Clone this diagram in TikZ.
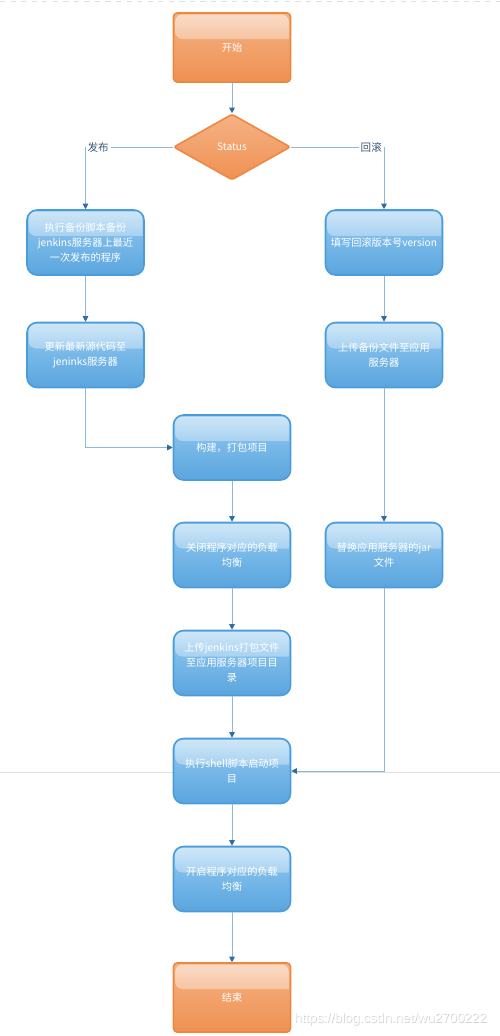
\documentclass[tikz,border=0pt]{standalone}
\usepackage{fontspec}
\usepackage{tikz}
\usetikzlibrary{shapes.geometric,arrows.meta,fadings}
\newfontfamily\cjk{Noto Sans CJK SC}
\newfontfamily\wmfont{Liberation Sans}
\definecolor{boxtop}{HTML}{94CAF1}
\definecolor{boxbot}{HTML}{5AA5DE}
\definecolor{boxline}{HTML}{4B9CDB}
\definecolor{orgtop}{HTML}{F5B285}
\definecolor{orgbot}{HTML}{EF9152}
\definecolor{orgline}{HTML}{EE8840}
\definecolor{flowline}{HTML}{8DB9DD}
\definecolor{tipblue}{HTML}{2F6CA3}
\definecolor{labeltext}{HTML}{3A5877}

\begin{document}
\begin{tikzpicture}[
		gloss/.style={path picture={\fill[white,opacity=0.55,path fading=south,rounded corners=0.15cm] ([xshift=0.03cm,yshift=-0.03cm]path picture bounding box.north west) -- ([xshift=0.03cm,yshift=-0.52cm]path picture bounding box.north west) [sharp corners] -- ([xshift=-0.03cm,yshift=-0.52cm]path picture bounding box.north east) [rounded corners=0.15cm] -- ([xshift=-0.03cm,yshift=-0.03cm]path picture bounding box.north east) -- cycle;}},
		task/.style={rounded corners=0.2cm, draw=boxline, line width=0.9pt, top color=boxtop, bottom color=boxbot, minimum width=2.34cm, minimum height=1.3cm, inner sep=1pt, text=white, align=center, font=\cjk\fontsize{5.8}{8.5}\selectfont, gloss},
		terminal/.style={rounded corners=0.07cm, draw=orgline, line width=0.9pt, top color=orgtop, bottom color=orgbot, minimum width=2.34cm, minimum height=1.38cm, text=white, font=\cjk\fontsize{5.8}{8.5}\selectfont, gloss},
		decision/.style={diamond, rounded corners=0.05cm, draw=orgline, line width=0.9pt, top color=orgtop, bottom color=orgbot, minimum width=2.34cm, minimum height=1.32cm, inner sep=0pt, text=white, font=\cjk\fontsize{5.8}{8.5}\selectfont},
		flow/.style={draw=flowline, line width=0.5pt, -{Triangle[width=3.2pt,length=3.2pt,color=tipblue]}},
		branch/.style={fill=white, inner sep=1pt, text=labeltext, font=\cjk\fontsize{6}{7}\selectfont}
	]
		\useasboundingbox[fill=white] (0,0) rectangle (10,-20.72);
		% editor page marks
		\draw[gray!25, dashed, line width=0.4pt] (0,-0.03) -- (10,-0.03);
		\draw[gray!25, line width=0.4pt] (0,-15.44) -- (10,-15.44);

		\node[terminal] (start) at (4.64,-0.95) {开始};
		\node[decision] (status) at (4.64,-2.94) {Status};

		% release branch
		\node[task] (backup) at (1.71,-4.85) {执行备份脚本备份\\jenkins服务器上最近\\一次发布的程序};
		\node[task] (pull) at (1.71,-7.1) {更新最新源代码至\\jeninks服务器};

		% rollback branch
		\node[task] (version) at (7.68,-4.85) {填写回滚版本号version};
		\node[task] (uploadbak) at (7.68,-7.1) {上传备份文件至应用\\服务器};
		\node[task] (replace) at (7.68,-11.1) {替换应用服务器的jar\\文件};

		% common steps
		\node[task] (build) at (4.64,-8.95) {构建，打包项目};
		\node[task] (lboff) at (4.64,-11.1) {关闭程序对应的负载\\均衡};
		\node[task] (upload) at (4.64,-13.26) {上传jenkins打包文件\\至应用服务器项目目\\录};
		\node[task] (shell) at (4.64,-15.42) {执行shell脚本启动项\\目};
		\node[task] (lbon) at (4.64,-17.58) {开启程序对应的负载\\均衡};
		\node[terminal] (finish) at (4.64,-19.95) {结束};

		\draw[flow] (start) -- (status);
		\draw[flow] (status.west) -| node[branch, pos=0.5, anchor=west] {发布} (backup.north);
		\draw[flow] (status.east) -| node[branch, pos=0.5, anchor=east] {回滚} (version.north);
		\draw[flow] (backup) -- (pull);
		\draw[flow] (pull.south) |- (build.west);
		\draw[flow] (version) -- (uploadbak);
		\draw[flow] (uploadbak) -- (replace);
		\draw[flow] (replace.south) |- (shell.east);
		\draw[flow] (build) -- (lboff);
		\draw[flow] (lboff) -- (upload);
		\draw[flow] (upload) -- (shell);
		\draw[flow] (shell) -- (lbon);
		\draw[flow] (lbon) -- (finish);

		% watermark
		\node[text=gray!35, font=\wmfont\fontsize{7.6}{9}\selectfont, anchor=east] at (9.875,-20.395) {https://blog.csdn.net/wu2700222};
		\node[text=white, font=\wmfont\fontsize{7.6}{9}\selectfont, anchor=east] (mark) at (9.86,-20.38) {https://blog.csdn.net/wu2700222};
	\end{tikzpicture}
\end{document}
